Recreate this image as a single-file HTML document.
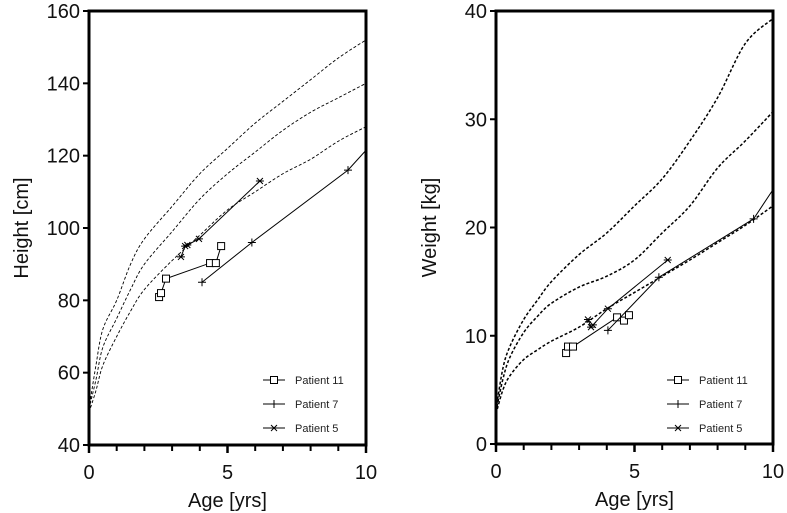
<!DOCTYPE html>
<html><head><meta charset="utf-8"><style>
html,body{margin:0;padding:0;background:#fff;}
svg{display:block;font-family:"Liberation Sans",Arial,sans-serif;}
</style></head><body>
<svg id="fig" width="787" height="513" viewBox="0 0 787 513"></svg>
<script>
const ages = [0,0.25,0.5,1,1.5,2,3,4,5,6,7,8,9,10];
const heightTop = [50,62,72,80,90,97,106,115,122,129,135,141,147,152];
const heightMid = [50,58,67,75,83,90,99,108,115,121,127,132,136,140];
const heightLow = [49,55,62,70,77,83,91,98,105,110,115,119,124,128];
const weightTop = [3.2,7,9,11.5,13.3,15,17.5,19.5,22,24.5,28,32,37,39.3];
const weightMid = [3.0,6,8,10.3,11.8,13,14.5,15.5,17,19.5,22,25.5,28,30.7];
const weightLow = [2.8,5,6.3,7.8,8.7,9.5,10.8,12.5,14,15.5,17,18.6,20.2,22];
const p11Age = [2.53,2.6,2.78,4.37,4.58,4.77];
const p11Height = [80.9,82,86,90.3,90.3,95];
const p7Age = [4.08,5.88,9.35,10];
const p7Height = [85,96,116,121.5];
const p5Age = [3.32,3.47,3.55,3.97,6.17];
const p5Height = [92,95,95.3,97,113];
const p11WAge = [2.53,2.6,2.78,4.37,4.62,4.8];
const p11Weight = [8.4,9.0,9.0,11.7,11.4,11.9];
const p7WAge = [4.04,5.88,9.3,10];
const p7Weight = [10.5,15.4,20.8,23.5];
const p5WAge = [3.32,3.43,3.5,4.04,6.2];
const p5Weight = [11.5,10.8,11.0,12.5,17.0];
const heightTicks = [40,60,80,100,120,140,160];
const weightTicks = [0,10,20,30,40];
const ageTicks = [0,5,10];
const legendLabels = ["Patient 11","Patient 7","Patient 5"];

const NS="http://www.w3.org/2000/svg";
const svg=document.getElementById('fig');
function el(tag,attrs,parent){const e=document.createElementNS(NS,tag);for(const k in attrs)e.setAttribute(k,attrs[k]);(parent||svg).appendChild(e);return e;}

function smoothPath(pts){
  let d=`M${pts[0][0]},${pts[0][1]}`;
  for(let i=0;i<pts.length-1;i++){
    const p0=pts[i-1]||pts[i],p1=pts[i],p2=pts[i+1],p3=pts[i+2]||p2;
    const c1=[p1[0]+(p2[0]-p0[0])/6,p1[1]+(p2[1]-p0[1])/6];
    const c2=[p2[0]-(p3[0]-p1[0])/6,p2[1]-(p3[1]-p1[1])/6];
    d+=` C${c1[0]},${c1[1]} ${c2[0]},${c2[1]} ${p2[0]},${p2[1]}`;
  }
  return d;
}
function marker(g,type,x,y){
  if(type==='square'){const r=el('rect',{x:x-3.5,y:y-3.5,width:7,height:7,fill:'#fff',stroke:'#000','stroke-width':1},g);
    }
  else if(type==='plus'){const p=el('path',{d:`M${x-4},${y}H${x+4}M${x},${y-4}V${y+4}`,stroke:'#000','stroke-width':1},g);
    }
  else {const p=el('path',{d:`M${x-4},${y}H${x+4}M${x-3},${y-3}L${x+3},${y+3}M${x-3},${y+3}L${x+3},${y-3}`,stroke:'#000','stroke-width':1},g);
    }
}

function chart(cfg){
  const {x0,x1,yTop,yBot,ymin,ymax,yticks,name,ytitle,ytitleX,refs,series}=cfg;
  const g=el('g',{});
  
  
  const sx=v=>x0+(v/10)*(x1-x0);
  const sy=v=>yBot-(v-ymin)/(ymax-ymin)*(yBot-yTop);
  refs.forEach((r,i)=>{
    const p=el('path',{d:smoothPath(ages.map((a,j)=>[sx(a),sy(r[j])])),fill:'none',stroke:'#000','stroke-width':cfg.refW,'stroke-dasharray':'3,2'},g);
    
    
  });
  series.forEach(s=>{
    const sg=el('g',{},g);
    
    
    const pl=el('polyline',{points:s.x.map((a,j)=>sx(a)+','+sy(s.y[j])).join(' '),fill:'none',stroke:'#000','stroke-width':1},sg);
    
    
    s.x.forEach((a,j)=>{ if(!(s.noEnd && j===s.x.length-1)) marker(sg,s.type,sx(a),sy(s.y[j])); });
  });
  const box=el('rect',{x:x0,y:yTop,width:x1-x0,height:yBot-yTop,fill:'none',stroke:'#000','stroke-width':3},g);
  
  
  yticks.forEach(t=>{
    const tk=el('line',{x1:x0-6,x2:x0,y1:sy(t),y2:sy(t),stroke:'#000','stroke-width':2},g);
    
    
    const tx=el('text',{x:x0-9,y:sy(t)+7,'text-anchor':'end','font-size':20,fill:'#111'},g);
    tx.textContent=t;
    
    
  });
  for(let a=0;a<=10;a++){
    const major=a%5===0;
    const tk=el('line',{x1:sx(a),x2:sx(a),y1:yBot,y2:yBot+(major?8:6),stroke:'#000','stroke-width':major?2.5:2},g);
    
    
  }
  ageTicks.forEach(a=>{
    const tx=el('text',{x:sx(a),y:yBot+34,'text-anchor':'middle','font-size':20,fill:'#111'},g);
    tx.textContent=a;
    
    
  });
  const xt=el('text',{x:(x0+x1)/2,y:yBot+62,'text-anchor':'middle','font-size':20,fill:'#111'},g);
  xt.textContent='Age [yrs]';
  
  
  const yt=el('text',{x:0,y:0,'text-anchor':'middle','font-size':20,fill:'#111',transform:`translate(${ytitleX},${(yTop+yBot)/2}) rotate(-90)`},g);
  yt.textContent=ytitle;
  
  
  const lg=el('g',{},g);
  
  
  const types=['square','plus','asterisk'];
  legendLabels.forEach((lab,i)=>{
    const y=cfg.legY+i*24, lx=cfg.legX;
    const ln=el('line',{x1:lx,x2:lx+22,y1:y,y2:y,stroke:'#000','stroke-width':1},lg);
    
    
    marker(lg,types[i],lx+11,y);
    const tx=el('text',{x:lx+32,y:y+4,'font-size':11,fill:'#222'},lg);
    tx.textContent=lab;
    
    
  });
}

chart({x0:89,x1:366,yTop:11,yBot:445,ymin:40,ymax:160,yticks:heightTicks,name:'height-chart',ytitle:'Height [cm]',ytitleX:28,refW:0.9,
  refs:[heightTop,heightMid,heightLow],legX:263,legY:380,
  series:[{name:'patient-11',type:'square',x:p11Age,y:p11Height},
          {name:'patient-7',type:'plus',x:p7Age,y:p7Height,noEnd:true},
          {name:'patient-5',type:'asterisk',x:p5Age,y:p5Height}]});
chart({x0:496,x1:773,yTop:11,yBot:444,ymin:0,ymax:40,yticks:weightTicks,name:'weight-chart',ytitle:'Weight [kg]',ytitleX:436,refW:1.5,
  refs:[weightTop,weightMid,weightLow],legX:667,legY:380,
  series:[{name:'patient-11',type:'square',x:p11WAge,y:p11Weight},
          {name:'patient-7',type:'plus',x:p7WAge,y:p7Weight,noEnd:true},
          {name:'patient-5',type:'asterisk',x:p5WAge,y:p5Weight}]});
</script>
</body></html>
